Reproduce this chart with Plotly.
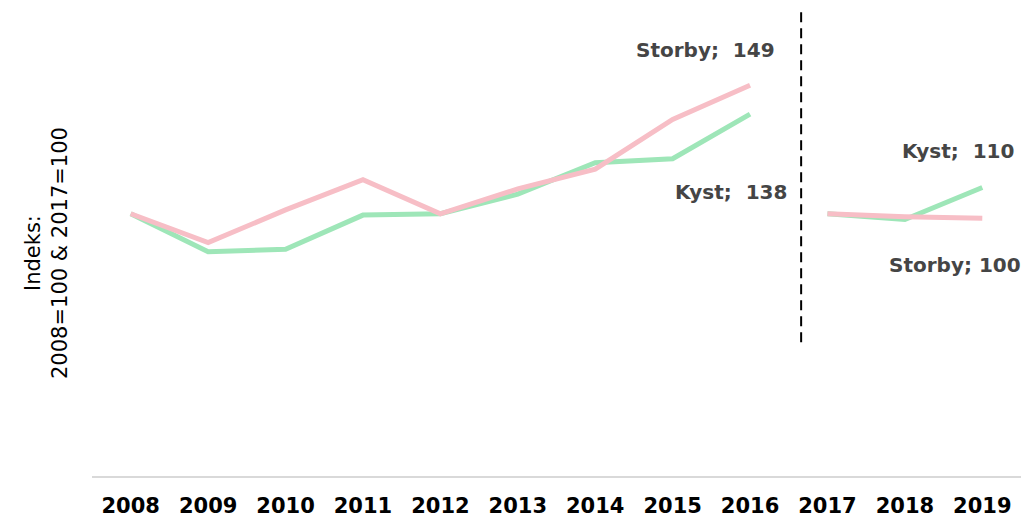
import plotly.graph_objects as go

years_a = [2008, 2009, 2010, 2011, 2012, 2013, 2014, 2015, 2016]
years_b = [2017, 2018, 2019]
kyst_a = [100, 85.5, 86.5, 99.5, 100, 107.5, 119.5, 121, 138]
storby_a = [100, 89, 101.5, 113, 100, 109.5, 117, 136, 149]
kyst_b = [100, 97.8, 110]
storby_b = [100, 98.9, 98.3]

GREEN = "#9ee6b8"
PINK = "#f7bec6"
LABEL = "#454545"
FONT = "DejaVu Sans"

fig = go.Figure()
for x, y, c in [(years_a, kyst_a, GREEN), (years_a, storby_a, PINK),
                (years_b, kyst_b, GREEN), (years_b, storby_b, PINK)]:
    fig.add_trace(go.Scatter(x=x, y=y, mode="lines",
                             line=dict(color=c, width=5), showlegend=False))

# break between the two index periods
fig.add_shape(type="line", x0=2016.66, x1=2016.66, y0=51, y1=177,
              xref="x", yref="y", line=dict(color="black", width=2, dash="10px,6px"))

labels = [
    ("Storby;  149", 2015.42, 162.6),
    ("Kyst;  138", 2015.76, 108.4),
    ("Kyst;  110", 2018.69, 124),
    ("Storby; 100", 2018.65, 80.5),
]
for txt, x, y in labels:
    fig.add_annotation(x=x, y=y, text=f"<b>{txt}</b>", showarrow=False,
                       font=dict(size=20, color=LABEL, family=FONT))

# y title as an annotation so it can sit a bit lower
fig.add_annotation(text="Indeks:<br>2008=100 & 2017=100", xref="paper", yref="paper",
                   x=-0.0484, y=0.4725, xanchor="center", yanchor="middle",
                   textangle=-90, showarrow=False,
                   font=dict(size=21, color="black", family=FONT))

fig.update_layout(
    width=1025, height=517,
    margin=dict(l=92, r=4, t=4, b=41),
    plot_bgcolor="white", paper_bgcolor="white",
    font=dict(family=FONT, color="black"),
)
fig.update_xaxes(range=[2007.5, 2019.5], tickvals=years_a + years_b,
                 ticktext=[f"<b>{y}</b>" for y in years_a + years_b],
                 tickfont=dict(size=21), showgrid=False, zeroline=False,
                 showline=True, linecolor="#d9d9d9", linewidth=2, ticks="",
                 ticklabelstandoff=10, automargin=False)
fig.update_yaxes(range=[0, 180], showticklabels=False, showgrid=False,
                 zeroline=False, automargin=False)

# drop the default 8px body margin so the figure fills the window
fig.write_html("out.html", config={"displayModeBar": False},
               post_script="document.body.style.margin='0';")
